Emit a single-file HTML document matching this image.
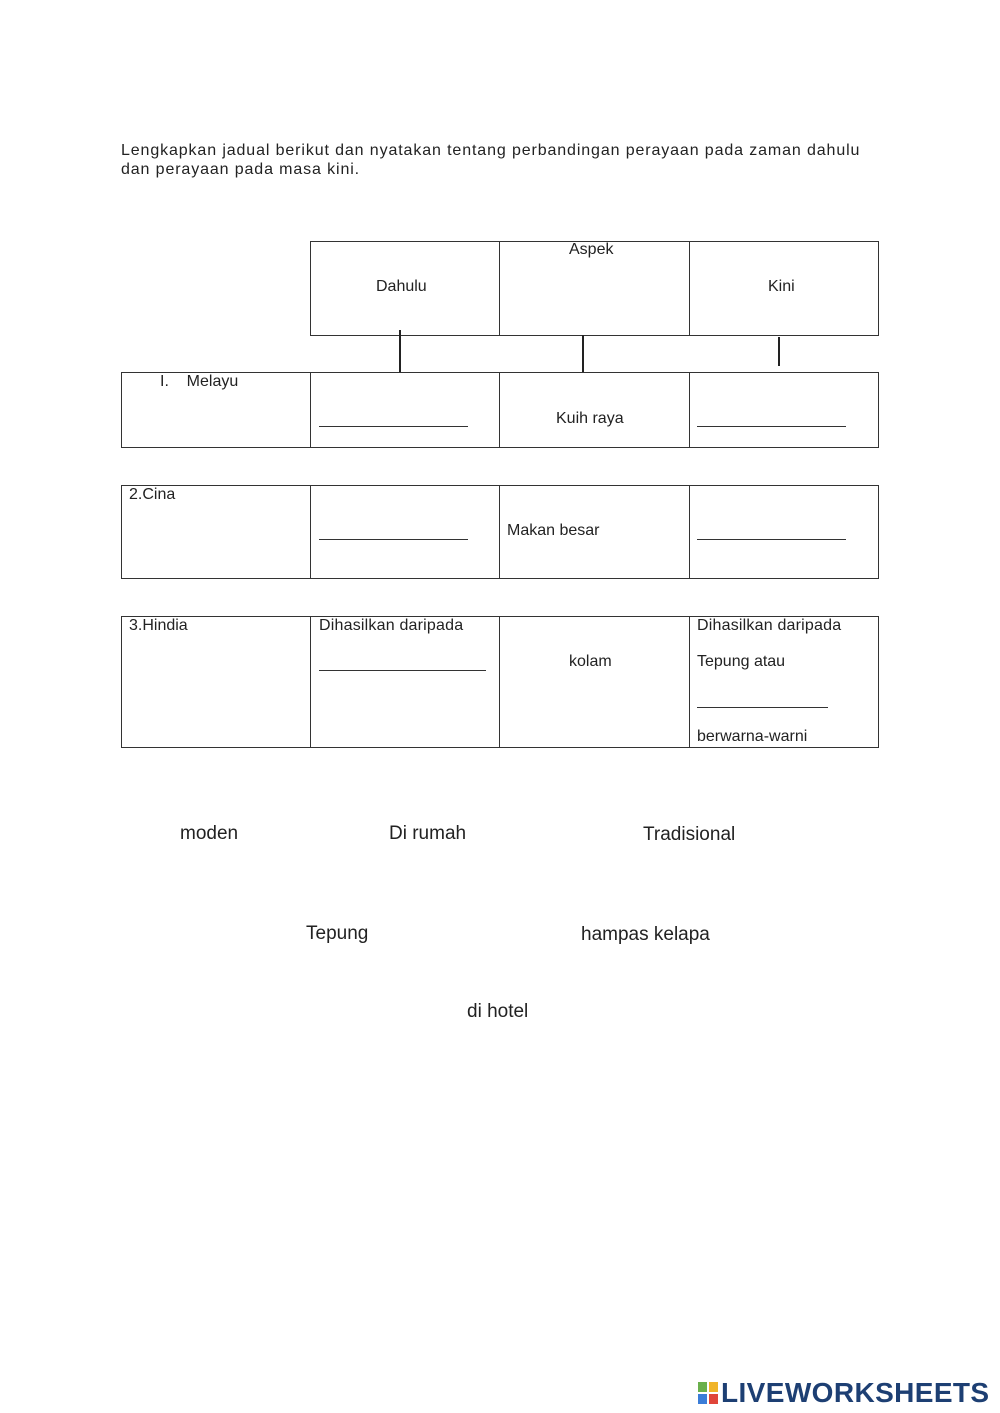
<!DOCTYPE html>
<html><head><meta charset="utf-8"><style>
body{margin:0;width:1000px;height:1413px;background:#fff;position:relative;font-family:"Liberation Sans",sans-serif;color:#222;overflow:hidden}
.t{position:absolute;white-space:nowrap;font-size:16px;line-height:18px}
.b{position:absolute;border:1px solid #333;box-sizing:border-box}
.v{position:absolute;width:1px;background:#333}
.vl{position:absolute;width:2px;background:#222}
.h{position:absolute;height:1px;background:#333}
.w{position:absolute;white-space:nowrap;font-size:19px;line-height:22px}
</style></head><body>
<div class="t" style="left:121px;top:142px;letter-spacing:0.88px">Lengkapkan jadual berikut dan nyatakan tentang perbandingan perayaan pada zaman dahulu</div>
<div class="t" style="left:121px;top:161px;letter-spacing:0.88px">dan perayaan pada masa kini.</div>

<div class="b" style="left:310px;top:241px;width:569px;height:95px"></div>
<div class="v" style="left:499px;top:241px;height:95px"></div>
<div class="v" style="left:689px;top:241px;height:95px"></div>
<div class="t" style="left:569px;top:241px">Aspek</div>
<div class="t" style="left:376px;top:278px">Dahulu</div>
<div class="t" style="left:768px;top:278px">Kini</div>

<div class="vl" style="left:399px;top:330px;height:42px"></div>
<div class="vl" style="left:582px;top:335px;height:37px"></div>
<div class="vl" style="left:778px;top:337px;height:29px"></div>

<div class="b" style="left:121px;top:372px;width:758px;height:76px"></div>
<div class="v" style="left:310px;top:372px;height:76px"></div>
<div class="v" style="left:499px;top:372px;height:76px"></div>
<div class="v" style="left:689px;top:372px;height:76px"></div>
<div class="t" style="left:160px;top:373px">I.&nbsp;&nbsp;&nbsp;&nbsp;Melayu</div>
<div class="h" style="left:319px;top:426px;width:149px"></div>
<div class="t" style="left:556px;top:410px">Kuih raya</div>
<div class="h" style="left:697px;top:426px;width:149px"></div>

<div class="b" style="left:121px;top:485px;width:758px;height:94px"></div>
<div class="v" style="left:310px;top:485px;height:94px"></div>
<div class="v" style="left:499px;top:485px;height:94px"></div>
<div class="v" style="left:689px;top:485px;height:94px"></div>
<div class="t" style="left:129px;top:486px">2.Cina</div>
<div class="h" style="left:319px;top:539px;width:149px"></div>
<div class="t" style="left:507px;top:522px">Makan besar</div>
<div class="h" style="left:697px;top:539px;width:149px"></div>

<div class="b" style="left:121px;top:616px;width:758px;height:132px"></div>
<div class="v" style="left:310px;top:616px;height:132px"></div>
<div class="v" style="left:499px;top:616px;height:132px"></div>
<div class="v" style="left:689px;top:616px;height:132px"></div>
<div class="t" style="left:129px;top:617px">3.Hindia</div>
<div class="t" style="left:319px;top:617px;letter-spacing:0.2px">Dihasilkan daripada</div>
<div class="h" style="left:319px;top:670px;width:167px"></div>
<div class="t" style="left:569px;top:653px">kolam</div>
<div class="t" style="left:697px;top:617px;letter-spacing:0.2px">Dihasilkan daripada</div>
<div class="t" style="left:697px;top:653px">Tepung atau</div>
<div class="h" style="left:697px;top:707px;width:131px"></div>
<div class="t" style="left:697px;top:728px">berwarna-warni</div>

<div class="w" style="left:180px;top:823px">moden</div>
<div class="w" style="left:389px;top:823px">Di rumah</div>
<div class="w" style="left:643px;top:824px">Tradisional</div>
<div class="w" style="left:306px;top:923px">Tepung</div>
<div class="w" style="left:581px;top:924px">hampas kelapa</div>
<div class="w" style="left:467px;top:1001px">di hotel</div>

<div style="position:absolute;left:698px;top:1382px;width:20px;height:22px">
<div style="position:absolute;left:0;top:0;width:9px;height:10px;background:#6ab04c"></div>
<div style="position:absolute;left:11px;top:0;width:9px;height:10px;background:#f0b429"></div>
<div style="position:absolute;left:0;top:12px;width:9px;height:10px;background:#3b7dd8"></div>
<div style="position:absolute;left:11px;top:12px;width:9px;height:10px;background:#e0453a"></div>
</div>
<div style="position:absolute;left:721px;top:1378px;font-size:28px;font-weight:bold;color:#1d3f73;line-height:30px;letter-spacing:0.4px">LIVEWORKSHEETS</div>
</body></html>
